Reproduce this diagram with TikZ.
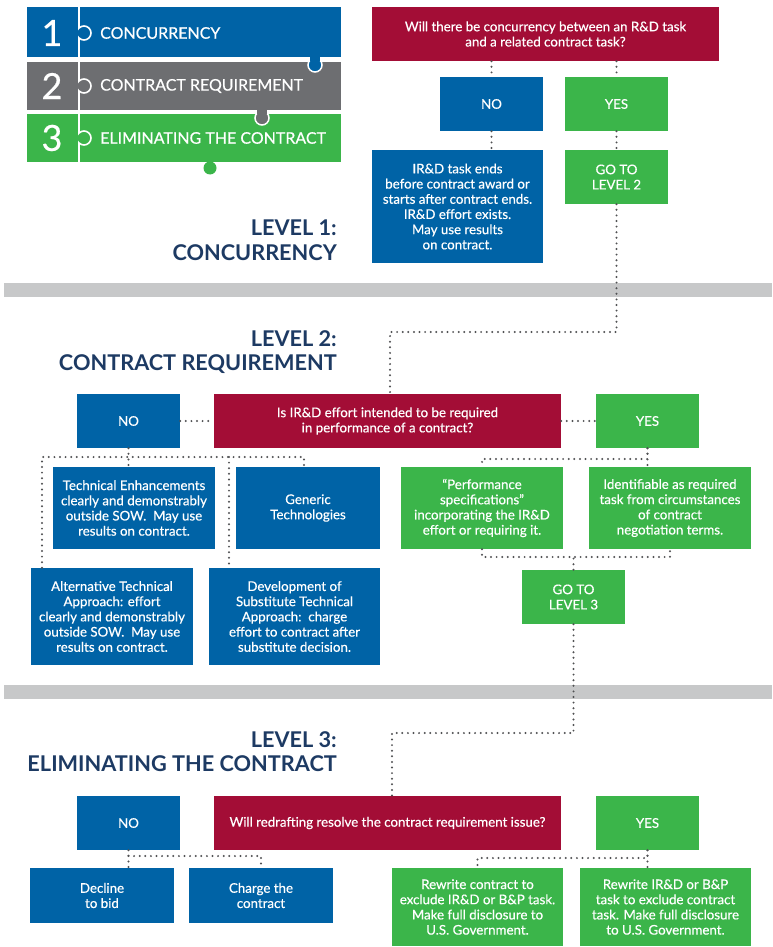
\documentclass[tikz,border=0pt]{standalone}
\usepackage{fontspec}
\setmainfont{Lato}
\newfontfamily\boxfont{Lato}[FakeBold=0.45]
\usetikzlibrary{positioning}

\definecolor{irblue}{RGB}{0,99,166}
\definecolor{irred}{RGB}{163,13,54}
\definecolor{irgreen}{RGB}{59,181,74}
\definecolor{irgray}{RGB}{109,110,113}
\definecolor{irbar}{RGB}{199,200,201}
\definecolor{irnavy}{RGB}{29,58,99}
\definecolor{irdot}{RGB}{80,81,83}

\begin{document}
\begin{tikzpicture}[x=1pt,y=-1pt,
box/.style={rectangle,inner sep=0pt,align=center,text=white,font=\boxfont\fontsize{13.3}{15.2}\selectfont},
nobox/.style={box,fill=irblue},
yesbox/.style={box,fill=irgreen},
askbox/.style={box,fill=irred,minimum width=347pt,minimum height=54pt},
small/.style={minimum width=103pt,minimum height=54pt},
dots/.style={irdot,line width=2.2pt,dash pattern=on 0pt off 5.6pt,line cap=round},
title/.style={text=irnavy,align=right,anchor=east,inner sep=0pt,font=\bfseries\fontsize{21.7}{24.5}\selectfont},
legend/.style={text=white,anchor=west,inner sep=0pt,font=\boxfont\fontsize{16}{18}\selectfont},
num/.style={text=white,inner sep=0pt,font=\boxfont\fontsize{36}{36}\selectfont}]
\useasboundingbox (0,0) rectangle (772,947);

% key
\fill[irblue] (27,7) rectangle (341,57);
\fill[irgray] (27,62) rectangle (341,110);
\fill[irgreen] (27,114) rectangle (341,162);
\filldraw[fill=irblue,draw=white,line width=1.5pt] (315,65) circle[radius=7];
\fill[irblue] (310,56) rectangle (320,61);
\filldraw[fill=irgray,draw=white,line width=1.5pt] (262,118) circle[radius=7];
\fill[irgray] (257,109) rectangle (267,114);
\fill[irgreen] (210,168) circle[radius=6.5];
\draw[white,line width=2.5pt] (79,7) -- (79,162);
\foreach \y/\c in {33/irblue,86/irgray,138/irgreen}{
  \fill[\c] (84,\y) circle[radius=6.3];
  \draw[white,line width=1.6pt] (84,\y) ++(135:7) arc[start angle=135,end angle=-135,radius=7];
}
\node[num] (n1) at (52,33) {1};
\node[num] (n2) at (52,86) {2};
\node[num] (n3) at (52,138) {3};
\node[legend] (k1) at (100,33) {CONCURRENCY};
\node[legend] (k2) at (100,86) {CONTRACT REQUIREMENT};
\node[legend] (k3) at (100,138) {ELIMINATING THE CONTRACT};

\fill[irbar] (4,283) rectangle (772,297);
\fill[irbar] (4,685) rectangle (772,699);

% level 1
\node[title] (t1) at (337,240) {LEVEL 1:\\CONCURRENCY};
\node[askbox] (q1) at (545.5,34) {Will there be concurrency between an R\&D task\\and a related contract task?};
\node[nobox,small] (no1) at (491.5,104) {NO};
\node[yesbox,small] (yes1) at (616.5,104) {YES};
\node[nobox,minimum width=171pt,minimum height=113pt] (res1) at (457.5,206.5) {IR\&D task ends\\before contract award or\\starts after contract ends.\\IR\&D effort exists.\\May use results\\on contract.};
\node[yesbox,small] (go2) at (616.5,177) {GO TO\\LEVEL 2};

% level 2
\node[title] (t2) at (337,352) {LEVEL 2:\\CONTRACT REQUIREMENT};
\node[nobox,small] (no2) at (128.5,421) {NO};
\node[askbox] (q2) at (387.5,421) {Is IR\&D effort intended to be required\\in performance of a contract?};
\node[yesbox,small] (yes2) at (647.5,421) {YES};
\node[nobox,minimum width=162pt,minimum height=82pt] (tech) at (134,508) {Technical Enhancements\\clearly and demonstrably\\outside SOW.\ \ May use\\results on contract.};
\node[nobox,minimum width=144pt,minimum height=82pt] (gen) at (308,508) {Generic\\Technologies};
\node[nobox,minimum width=162pt,minimum height=97pt] (alt) at (112,616.5) {Alternative Technical\\Approach: effort\\clearly and demonstrably\\outside SOW.\ \ May use\\results on contract.};
\node[nobox,minimum width=171pt,minimum height=97pt] (dev) at (294.5,616.5) {Development of\\Substitute Technical\\Approach:\ \ charge\\effort to contract after\\substitute decision.};
\node[yesbox,minimum width=162pt,minimum height=82pt] (perf) at (482,508) {“Performance\\specifications”\\incorporating the IR\&D\\effort or requiring it.};
\node[yesbox,minimum width=162pt,minimum height=82pt] (ident) at (670,508) {Identifiable as required\\task from circumstances\\of contract\\negotiation terms.};
\node[yesbox,small] (go3) at (573.5,597) {GO TO\\LEVEL 3};

% level 3
\node[title] (t3) at (337,751.5) {LEVEL 3:\\ELIMINATING THE CONTRACT};
\node[nobox,small] (no3) at (128.5,823) {NO};
\node[askbox] (q3) at (387.5,823) {Will redrafting resolve the contract requirement issue?};
\node[yesbox,small] (yes3) at (647.5,823) {YES};
\node[nobox,minimum width=144pt,minimum height=55pt] (decl) at (102,895.5) {Decline\\to bid};
\node[nobox,minimum width=144pt,minimum height=55pt] (chg) at (261,895.5) {Charge the\\contract};
\node[yesbox,minimum width=171pt,minimum height=78pt] (rwc) at (477.5,907) {Rewrite contract to\\exclude IR\&D or B\&P task.\\Make full disclosure to\\U.S. Government.};
\node[yesbox,minimum width=171pt,minimum height=78pt] (rwi) at (665.5,907) {Rewrite IR\&D or B\&P\\task to exclude contract\\task. Make full disclosure\\to U.S. Government.};

\coordinate (j2) at (390,332);
\coordinate (b2l) at (42,457);
\coordinate (b2d) at (229,457);
\coordinate (b2r) at (304,457);
\coordinate (b2y) at (0,459);
\coordinate (m2) at (0,557);
\coordinate (j3) at (392,733);
\coordinate (m3) at (0,856);
\coordinate (m4) at (0,858);

\draw[dots] (q1.south -| no1.north) -- (no1.north);
\draw[dots] (q1.south -| yes1.north) -- (yes1.north);
\draw[dots] (no1.south) -- (res1.north -| no1.south);
\draw[dots] (yes1.south) -- (go2.north);
\draw[dots] (go2.south) |- (j2) -- (q2.north -| j2);

\draw[dots] (no2.east) -- (q2.west);
\draw[dots] (q2.east) -- (yes2.west);
\draw[dots] (alt.north -| b2l) |- (b2r) -- (gen.north -| b2r);
\draw[dots] (no2.south) -- (tech.north -| no2.south);
\draw[dots] (b2d) -- (dev.north -| b2d);
\draw[dots] (yes2.south) |- (perf.north |- b2y) -- (perf.north);
\draw[dots] (yes2.south) -- (ident.north -| yes2.south);
\draw[dots] (perf.south) |- (ident.south |- m2) -- (ident.south);
\draw[dots] (go3.north) -- (go3.north |- m2);
\draw[dots] (go3.south) |- (j3) -- (q3.north -| j3);

\draw[dots] (no3.south) -- (decl.north -| no3.south);
\draw[dots] (no3.south |- m3) -| (chg.north);
\draw[dots] (yes3.south) |- (rwc.north |- m4) -- (rwc.north);
\draw[dots] (yes3.south) -- (rwi.north -| yes3.south);
\end{tikzpicture}
\end{document}
